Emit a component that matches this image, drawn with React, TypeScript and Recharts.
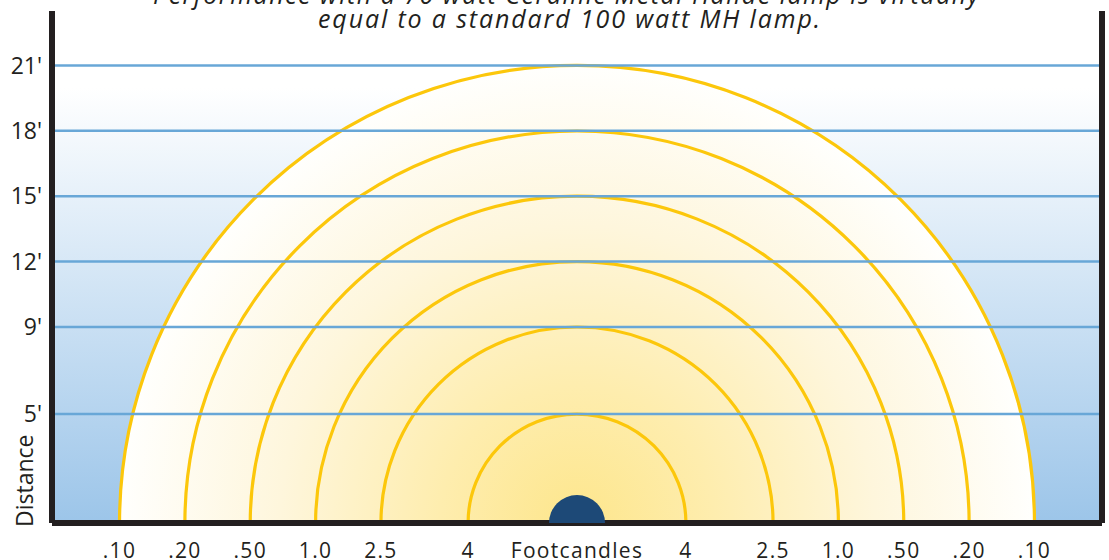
import React from 'react';
import { ComposedChart, Customized, ReferenceArea, ReferenceLine, Scatter, XAxis, YAxis } from 'recharts';

// distances (feet) of each light ring, outermost first, and the footcandle value at that ring
const distances = [21, 18, 15, 12, 9, 5];
const footcandles = ['.10', '.20', '.50', '1.0', '2.5', '4'];
const distanceTicks = [5, 9, 12, 15, 18, 21];
const lamp = [{ x: 0, y: 0 }];
const titleLines = [
    'Performance with a 70 watt Ceramic Metal Halide lamp is virtually',
    'equal to a standard 100 watt MH lamp.',
];

const X_MAX = 24.1;
const Y_MAX = 23.5;
const INK = '#231f20';
const FONT = '"Open Sans", "Noto Sans", sans-serif';

const xTicks = [...distances.map(d => -d), 0, ...[...distances].reverse()];

const fcLabel = (v: number) => {
    if (v === 0) return 'Footcandles';
    const i = distances.indexOf(Math.abs(v));
    return i >= 0 ? footcandles[i] : '';
};

const arcPath = (x: number, y: number, width: number, height: number) => {
    const cx = x + width / 2;
    const base = y + height;
    const rx = width / 2;
    return `M${cx - rx},${base} A${rx},${height} 0 0 1 ${cx + rx},${base}`;
};

const GlowShape = (props: any) => {
    const { x, y, width, height } = props;
    const cx = x + width / 2;
    const base = y + height;
    return (
        <g>
            <defs>
                <radialGradient id="glow" gradientUnits="userSpaceOnUse" cx={cx} cy={base} r={width / 2}>
                    <stop offset="0%" stopColor="#fde68c" />
                    <stop offset="30%" stopColor="#feedae" />
                    <stop offset="65%" stopColor="#fef6dc" />
                    <stop offset="100%" stopColor="#fffffd" />
                </radialGradient>
            </defs>
            <path d={`${arcPath(x, y, width, height)} Z`} fill="url(#glow)" stroke="none" />
        </g>
    );
};

const RingShape = (props: any) => {
    const { x, y, width, height } = props;
    return <path d={arcPath(x, y, width, height)} fill="none" stroke="#fcc70b" strokeWidth={3.2} />;
};

const LampShape = (props: any) => {
    const { cx, cy } = props;
    const r = 28;
    return <path d={`M${cx - r},${cy} A${r},${r} 0 0 1 ${cx + r},${cy} Z`} fill="#1d4977" />;
};

const Defs = () => (
    <defs>
        <linearGradient id="sky" x1="0" y1="0" x2="0" y2="1">
            <stop offset="0%" stopColor="#ffffff" />
            <stop offset="15%" stopColor="#ffffff" />
            <stop offset="100%" stopColor="#9cc5e9" />
        </linearGradient>
    </defs>
);

const Overlay = () => (
    <svg width={1109} height={560} style={{ position: 'absolute', left: 0, top: 0, pointerEvents: 'none' }}>
        <g fontFamily={FONT} fontStyle="italic" fontSize={25} fill={INK} textAnchor="middle">
            <text x={566} y={4} textLength={826} lengthAdjust="spacing">{titleLines[0]}</text>
            <text x={569} y={28} textLength={502} lengthAdjust="spacing">{titleLines[1]}</text>
        </g>
        <text x={33} y={527} fontFamily={FONT} fontSize={23} fill={INK} transform="rotate(-90 33 527)">Distance</text>
    </svg>
);

export default function App() {
    return (
        <div style={{ position: 'absolute', left: 0, top: 0 }}>
            <ComposedChart width={1109} height={560} margin={{ top: 11, right: 7, bottom: 7, left: 12 }}>
                <Customized component={<Defs />} />
                <XAxis
                    type="number"
                    dataKey="x"
                    domain={[-X_MAX, X_MAX]}
                    ticks={xTicks}
                    interval={0}
                    tickFormatter={fcLabel}
                    tickLine={false}
                    tickMargin={14}
                    height={30}
                    axisLine={{ stroke: INK, strokeWidth: 6 }}
                    tick={{ fill: INK, fontSize: 21, fontFamily: FONT, letterSpacing: 1.3 }}
                    allowDataOverflow
                />
                <YAxis
                    type="number"
                    dataKey="y"
                    domain={[0, Y_MAX]}
                    ticks={distanceTicks}
                    interval={0}
                    tickFormatter={(v: number) => `${v}'`}
                    tickLine={false}
                    tickMargin={4}
                    width={40}
                    axisLine={{ stroke: INK, strokeWidth: 6 }}
                    tick={{ fill: INK, fontSize: 23, fontFamily: FONT }}
                    allowDataOverflow
                />
                <ReferenceArea x1={-X_MAX} x2={X_MAX} y1={0} y2={Y_MAX} fill="url(#sky)" fillOpacity={1} stroke="none" />
                <ReferenceArea x1={-distances[0]} x2={distances[0]} y1={0} y2={distances[0]} shape={GlowShape} />
                {distanceTicks.map(d => (
                    <ReferenceLine key={`g${d}`} y={d} stroke="#68a7d7" strokeWidth={2.5} />
                ))}
                {distances.map(d => (
                    <ReferenceArea key={`r${d}`} x1={-d} x2={d} y1={0} y2={d} shape={RingShape} />
                ))}
                <Scatter data={lamp} dataKey="y" shape={LampShape} isAnimationActive={false} />
                <ReferenceLine x={X_MAX} stroke={INK} strokeWidth={6} />
            </ComposedChart>
            <Overlay />
        </div>
    );
}
